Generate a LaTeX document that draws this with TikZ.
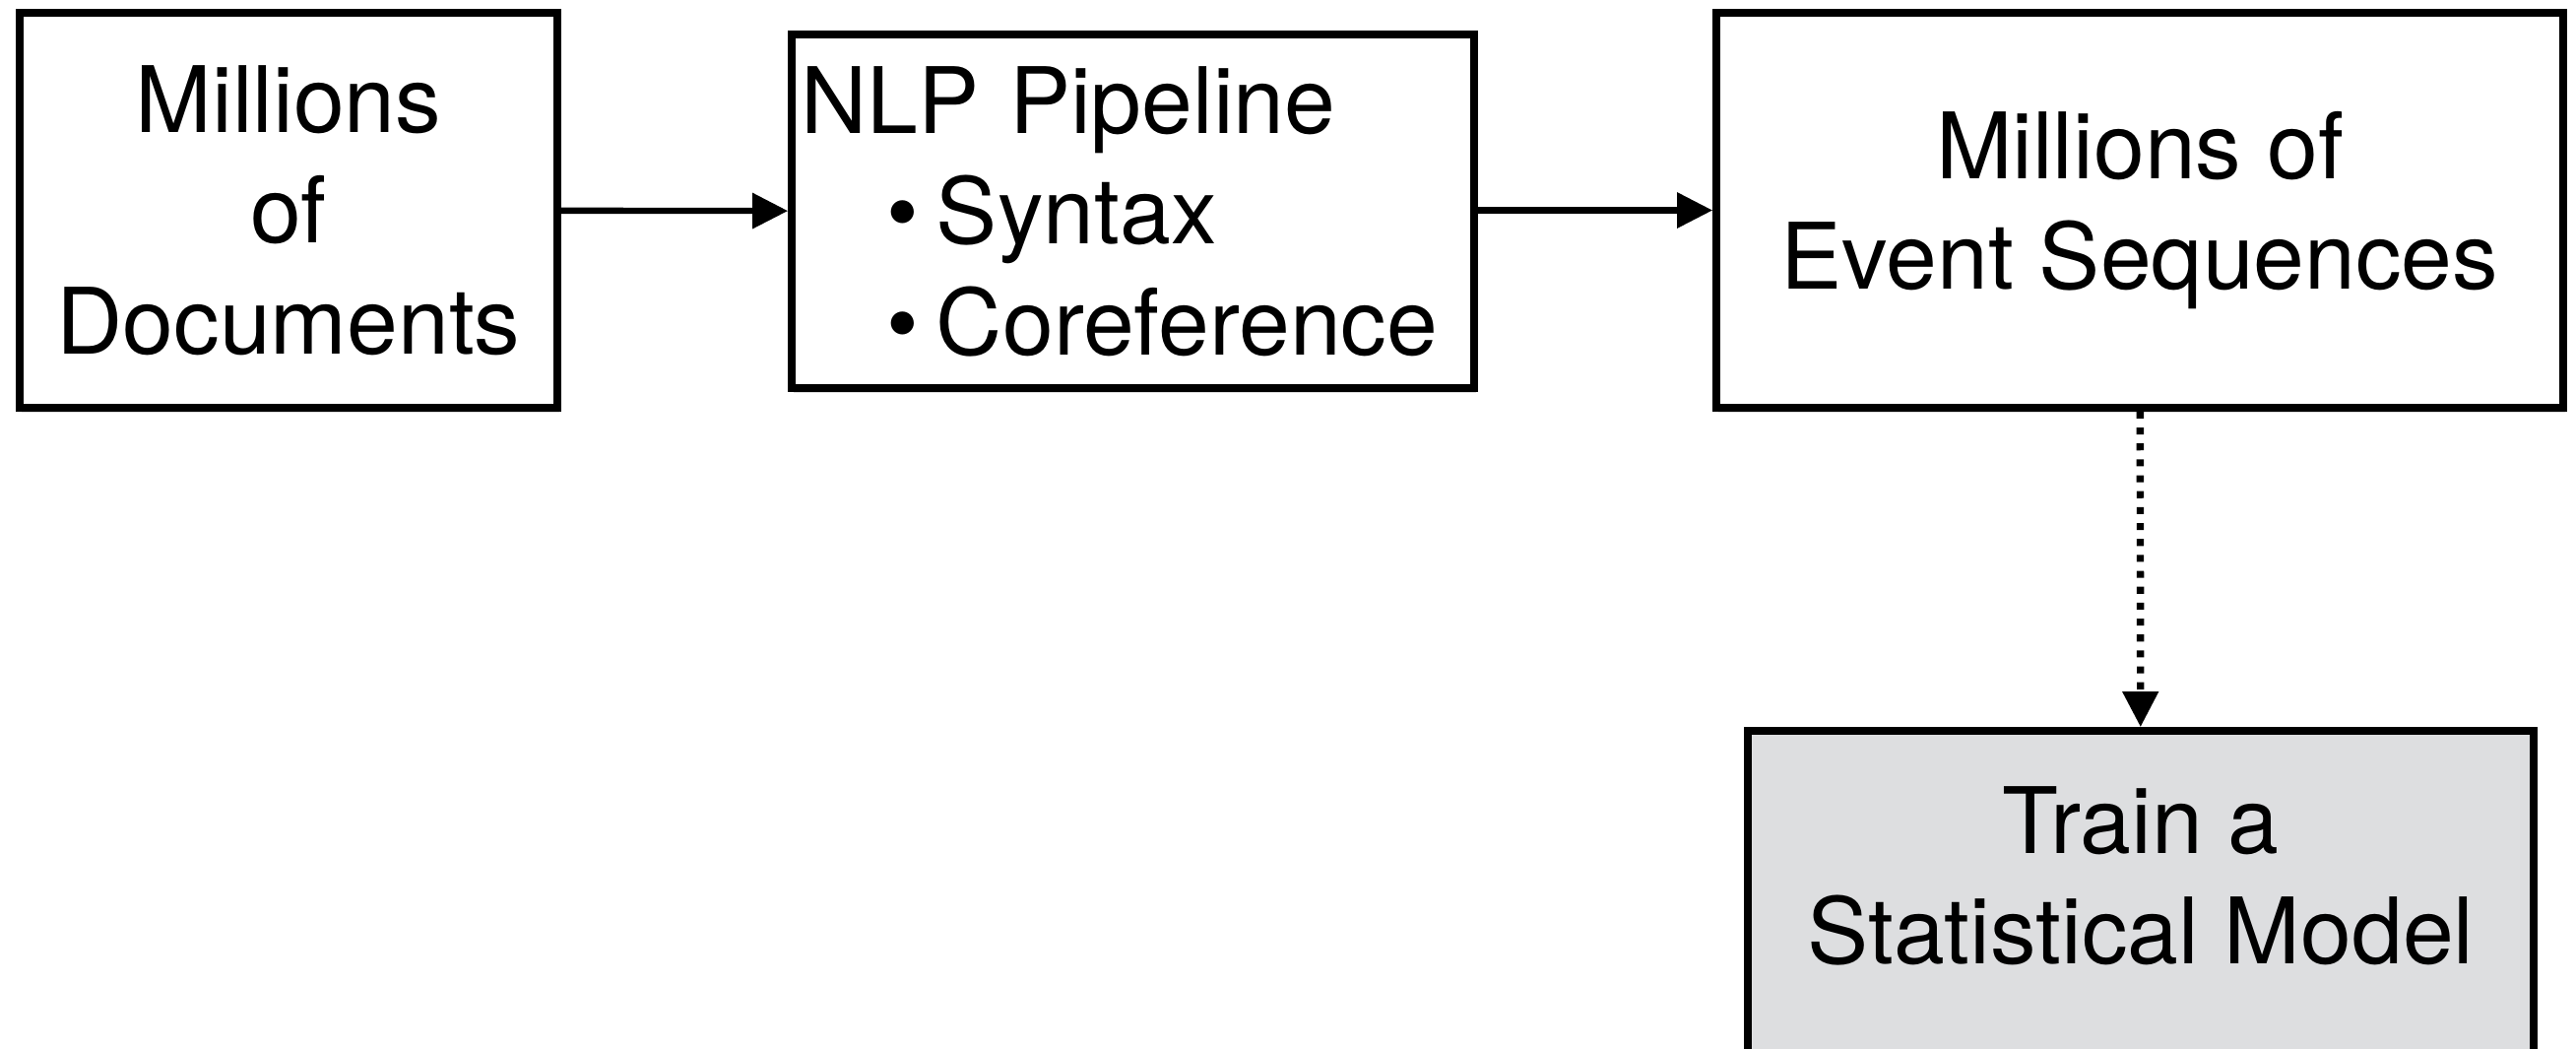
\documentclass[tikz,border=0pt]{standalone}
\usepackage{fontspec}
\setmainfont{TeX Gyre Heros}
\usepackage{xcolor}
\usepackage{tikz}
\usetikzlibrary{arrows.meta,shadows}
\definecolor{modelgray}{RGB}{221,222,224}

\begin{document}
\begin{tikzpicture}[
            box/.style={shape=rectangle, draw, line width=2.2pt, fill=white, inner sep=0pt,
                drop shadow={opacity=0.25, shadow xshift=0.02cm, shadow yshift=-0.05cm},
                font=\fontsize{26.5pt}{32pt}\selectfont},
            flow/.style={line width=1.8pt, -{Triangle[length=0.36cm, width=0.35cm]}}]
				\useasboundingbox (0,0) rectangle (26.16,-10.64);

				\node[box, align=center, minimum width=5.46cm, minimum height=4.01cm] (docs) at (2.93,-2.135) {Millions\\of\\Documents};
				\node[box, align=left, minimum width=6.93cm, minimum height=3.59cm, text width=6.75cm] (nlp) at (11.505,-2.145)
					{NLP Pipeline\\\hspace*{1.38cm}\llap{\textbullet\hspace{0.18cm}}Syntax\\\hspace*{1.38cm}\llap{\textbullet\hspace{0.18cm}}Coreference};
				\node[box, align=center, minimum width=8.6cm, minimum height=4.01cm] (events) at (21.73,-2.135) {Millions of\\Event Sequences};
				\node[box, fill=modelgray, align=center, minimum width=7.98cm, minimum height=3.48cm, text depth=0.55cm] (model) at (21.74,-9.16) {Train a\\Statistical Model};

				\draw[flow] (docs) -- (nlp);
				\draw[flow] (nlp.east |- docs) -- (events.west |- docs);
				\draw[flow, line width=2.1pt, dash pattern=on 2pt off 2.6pt] (events) -- (model);
 		\end{tikzpicture}
\end{document}
